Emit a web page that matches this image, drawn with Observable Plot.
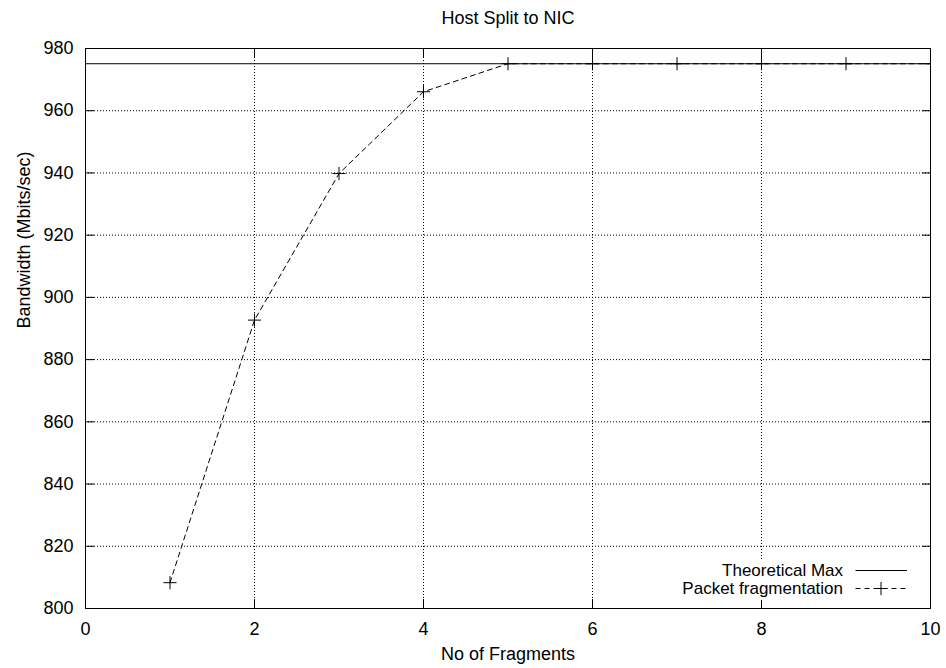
<!DOCTYPE html>
<html><head><meta charset="utf-8">
<script src="https://cdn.jsdelivr.net/npm/d3@7"></script>
<script src="https://cdn.jsdelivr.net/npm/@observablehq/plot@0.6"></script>
<style>
body{margin:0;background:#fff;}
#wrap{position:relative;width:946px;height:668px;font-family:"Liberation Sans",Arial,sans-serif;}
#legend{position:absolute;left:655px;top:561px;width:268px;height:39px;background:#fff;}
</style></head><body><div id="wrap"><div id="legend"></div></div>
<script>
const fragments = [1, 2, 3, 4, 5, 6, 7, 8, 9, 10];
const bandwidth = [808.3, 892.7, 939.8, 966.1, 975.1, 975.1, 975.1, 975.1, 975.1, 975.1];
const theoreticalMax = [975.1];
const xDomain = [0, 10];
const yDomain = [800, 980];
const xTicks = [0, 2, 4, 6, 8, 10];
const yTicks = [800, 820, 840, 860, 880, 900, 920, 940, 960, 980];
const title = "Host Split to NIC";
const xLabel = "No of Fragments";
const yLabel = "Bandwidth (Mbits/sec)";
const seriesNames = ["Theoretical Max", "Packet fragmentation"];

const data = fragments.map((x, i) => ({x, y: bandwidth[i]}));
const font = "18px";
const grid = {stroke: "#000", strokeOpacity: 1, strokeDasharray: "1,2", strokeWidth: 1};
const tk = 9;
const tickOpts = {tickSize: tk, tickFormat: () => "", label: null, stroke: "#000", strokeWidth: 1};

const chart = Plot.plot({
  width: 946, height: 668,
  marginLeft: 85, marginRight: 16, marginTop: 48, marginBottom: 60,
  style: {fontFamily: "'Liberation Sans', Arial, sans-serif", fontSize: font, color: "#000", background: "#fff"},
  x: {domain: xDomain},
  y: {domain: yDomain},
  marks: [
    Plot.gridX(xTicks.slice(1, -1), grid),
    Plot.gridY(yTicks.slice(1, -1), grid),
    Plot.axisX(xTicks, {anchor: "bottom", ...tickOpts, dy: -tk}),
    Plot.axisX(xTicks, {anchor: "top", ...tickOpts, dy: tk}),
    Plot.axisY(yTicks, {anchor: "left", ...tickOpts, dx: tk}),
    Plot.axisY(yTicks, {anchor: "right", ...tickOpts, dx: -tk}),
    Plot.axisX(xTicks, {anchor: "bottom", tickSize: 0, tickPadding: 14, label: null, fontSize: font}),
    Plot.axisY(yTicks, {anchor: "left", tickSize: 0, tickPadding: 12, label: null, fontSize: font}),
    Plot.ruleY(theoreticalMax, {stroke: "#000", strokeWidth: 1, clip: "frame"}),
    Plot.line(data, {x: "x", y: "y", stroke: "#000", strokeWidth: 1, strokeDasharray: "5,4", clip: "frame"}),
    Plot.dot(data, {x: "x", y: "y", symbol: "plus", r: 4.3, stroke: "#000", strokeWidth: 1, clip: "frame"}),
    Plot.frame({stroke: "#000", strokeWidth: 1}),
    Plot.text([title], {frameAnchor: "top", dy: -30, lineAnchor: "middle", fontSize: font, fill: "#000"}),
    Plot.text([xLabel], {frameAnchor: "bottom", dy: 46, lineAnchor: "middle", fontSize: font, fill: "#000"}),
    Plot.text([yLabel], {frameAnchor: "left", dx: -61, rotate: -90, lineAnchor: "middle", fontSize: font, fill: "#000"})
  ]
});
const wrap = document.getElementById("wrap");
wrap.insertBefore(chart, wrap.firstChild);

// legend (gnuplot-style key, inside bottom-right)
const lg = d3.select("#legend").append("svg").attr("width", 268).attr("height", 39)
  .style("position", "absolute").style("left", 0).style("top", 0).style("overflow", "visible");
const rowsY = [9.5, 27.5];
seriesNames.forEach((name, i) => {
  lg.append("text").attr("x", 188).attr("y", rowsY[i]).attr("dy", "0.35em")
    .attr("text-anchor", "end").attr("font-size", 17)
    .attr("font-family", "'Liberation Sans', Arial, sans-serif").attr("fill", "#000").text(name);
  lg.append("line").attr("x1", 200.5).attr("x2", 252).attr("y1", rowsY[i]).attr("y2", rowsY[i])
    .attr("stroke", "#000").attr("stroke-width", 1)
    .attr("stroke-dasharray", i === 1 ? "5,4" : null);
});
lg.append("path").attr("d", d3.symbol(d3.symbolPlus, Math.PI * 4.3 * 4.3)())
  .attr("transform", `translate(226,${rowsY[1]})`).attr("fill", "none").attr("stroke", "#000");
</script>
</body></html>
